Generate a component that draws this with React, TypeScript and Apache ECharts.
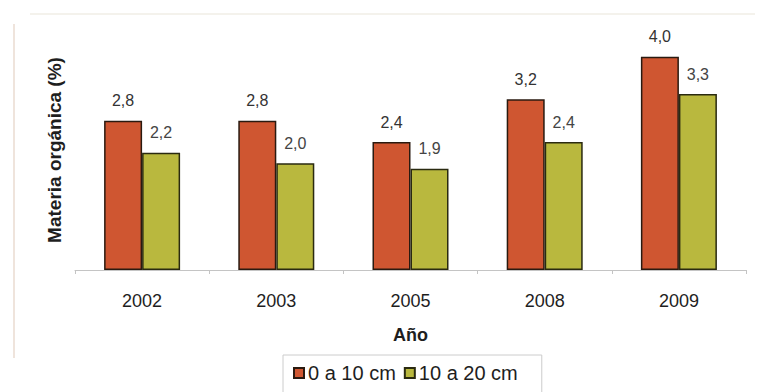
import React, { useEffect, useRef } from "react";
import * as echarts from "echarts";

const years = ["2002", "2003", "2005", "2008", "2009"];
const depth0to10 = [2.8, 2.8, 2.4, 3.2, 4.0];
const depth10to20 = [2.2, 2.0, 1.9, 2.4, 3.3];
const seriesNames = ["0 a 10 cm", "10 a 20 cm"];

const FONT = "'Liberation Sans', Arial, sans-serif";
const fmt = (p: any) => Number(p.value).toFixed(1).replace(".", ",");

export default function App() {
  const ref = useRef<HTMLDivElement>(null);
  useEffect(() => {
    if (!ref.current) return;
    const chart = echarts.init(ref.current, undefined, { renderer: "svg" });
    chart.setOption({
      animation: false,
      backgroundColor: "#ffffff",
      graphic: [
        {
          type: "line",
          shape: { x1: 14, y1: 24, x2: 14, y2: 358 },
          style: { stroke: "#eadbd0", lineWidth: 1.5 },
          silent: true,
        },
        {
          type: "line",
          shape: { x1: 30, y1: 14, x2: 755, y2: 14 },
          style: { stroke: "#f1eee6", lineWidth: 1.5 },
          silent: true,
        },
      ],
      grid: { left: 75, right: 21, top: 30, bottom: 122 },
      xAxis: {
        type: "category",
        data: years,
        axisLine: { show: true, lineStyle: { color: "#c4c4c4", width: 1 } },
        axisTick: { show: true, length: 4, lineStyle: { color: "#c4c4c4" } },
        axisLabel: { color: "#1e1e1e", fontSize: 18, fontFamily: FONT, margin: 22 },
        name: "Año",
        nameLocation: "middle",
        nameGap: 56,
        nameTextStyle: { color: "#1e1e1e", fontSize: 18, fontWeight: "bold", fontFamily: FONT },
      },
      yAxis: {
        type: "value",
        min: 0,
        max: 4.5,
        show: true,
        axisLine: { show: false },
        axisTick: { show: false },
        axisLabel: { show: false },
        splitLine: { show: false },
        name: "Materia orgánica (%)",
        nameLocation: "middle",
        nameGap: 11,
        nameRotate: 90,
        nameTextStyle: { color: "#1e1e1e", fontSize: 19, fontWeight: "bold", fontFamily: FONT },
      },
      legend: {
        data: seriesNames,
        left: 283,
        top: 355,
        itemWidth: 10,
        itemHeight: 10,
        itemGap: 8,
        icon: "rect",
        padding: [8, 24, 12, 10],
        borderColor: "#cccccc",
        borderWidth: 1,
        textStyle: { color: "#1e1e1e", fontSize: 20, fontFamily: FONT, padding: [0, 0, 0, -1] },
      },
      series: [
        {
          name: seriesNames[0],
          type: "bar",
          data: depth0to10,
          barWidth: 38,
          barGap: "0%",
          itemStyle: { color: "#cf5631", borderColor: "#2a1a10", borderWidth: 1.5 },
          label: {
            show: true,
            position: "top",
            distance: 12,
            formatter: fmt,
            color: "#333",
            fontSize: 16,
            fontFamily: FONT,
          },
        },
        {
          name: seriesNames[1],
          type: "bar",
          data: depth10to20,
          barWidth: 38,
          barGap: "0%",
          itemStyle: { color: "#b9b83e", borderColor: "#2a2a10", borderWidth: 1.5 },
          label: {
            show: true,
            position: "top",
            distance: 12,
            formatter: fmt,
            color: "#444",
            fontSize: 16,
            fontFamily: FONT,
          },
        },
      ],
    });
    return () => chart.dispose();
  }, []);
  return <div ref={ref} style={{ width: 767, height: 392, position: "absolute", left: 0, top: 0 }} />;
}
